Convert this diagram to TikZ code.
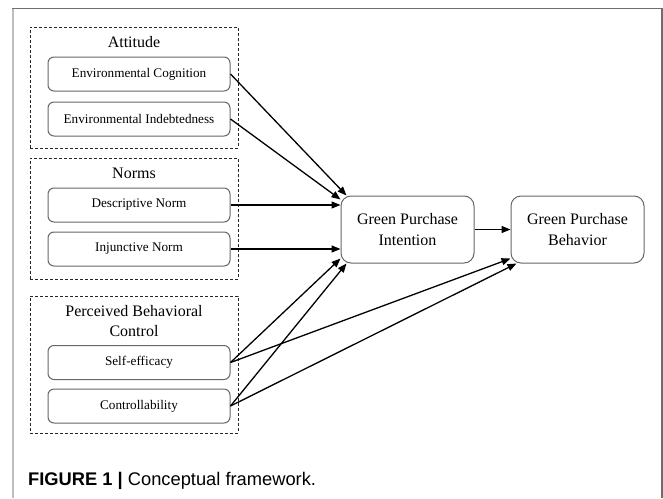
\documentclass[tikz,border=0pt]{standalone}
\usepackage{fontspec}
\setmainfont{Liberation Serif}
\newfontfamily\capsans{Liberation Sans}
\usepackage{xcolor}
\definecolor{boxgray}{HTML}{666666}
\definecolor{framegray}{HTML}{6E6E6E}
\definecolor{edgegray}{HTML}{BDBDBD}
\usepackage{tikz}
\usetikzlibrary{arrows.meta, positioning, calc}

\begin{document}
\begin{tikzpicture}[x=1pt, y=-1pt,
    inbox/.style={draw=boxgray, rounded corners=6pt, line width=1pt, minimum width=182pt, minimum height=34pt, inner sep=0pt, font=\fontsize{13.2}{15}\selectfont},
    mainbox/.style={draw=boxgray, rounded corners=10pt, line width=1pt, minimum width=133pt, minimum height=67pt, inner sep=0pt, align=center, font=\fontsize{16}{21}\selectfont},
    grpbox/.style={draw=black!85, dash pattern=on 3pt off 2pt, line width=0.9pt, minimum width=208pt, inner sep=0pt},
    grptitle/.style={inner sep=0pt, align=center, font=\fontsize{16}{20}\selectfont},
    link/.style={-{Triangle[length=9pt, width=7pt]}, line width=1.3pt}]
    \useasboundingbox (0,0) rectangle (663,498);
    % Frame
    \draw[edgegray, line width=2pt] (13,8) -- (13,498);
    \draw[framegray, line width=1.6pt] (12,8.5) -- (662,8.5) -- (662,498);
    % Dashed groups
    \node[grpbox, minimum height=121pt] (attgrp) at (134,87.5) {};
    \node[grpbox, minimum height=121pt] (normgrp) at (134,218.5) {};
    \node[grpbox, minimum height=137pt] (pbcgrp) at (134,364.5) {};
    \node[grptitle, anchor=base] (atttitle) at (134,47) {Attitude};
    \node[grptitle, anchor=base] (normtitle) at (134,178) {Norms};
    \node[grptitle, anchor=north] (pbctitle) at (134,305) {Perceived Behavioral\\Control};
    % Factor boxes
    \foreach \nm/\y/\txt in {envcog/74/Environmental Cognition, envind/119/Environmental Indebtedness, descn/205/Descriptive Norm, injn/249/Injunctive Norm, selfeff/362.5/Self-efficacy, ctrl/406/Controllability} {
        \node[inbox] (\nm) at (139,\y) {\txt};
    }
    \node[mainbox] (gpi) at (407.5,229.5) {Green Purchase\\Intention};
    \node[mainbox] (gpb) at (577.5,229.5) {Green Purchase\\Behavior};
    % Paths
    \draw[link] (envcog.east) -- ([xshift=6pt]gpi.north west);
    \draw[link] (envind.east) -- ([yshift=-4pt]gpi.north west);
    \draw[link] (descn.east) -- (descn.east -| gpi.west);
    \draw[link] (injn.east) -- (injn.east -| gpi.west);
    \draw[link] (selfeff.east) -- ([yshift=5pt]gpi.south west);
    \draw[link] (ctrl.east) -- ([xshift=6pt]gpi.south west);
    \draw[link] (selfeff.east) -- ([yshift=5pt]gpb.south west);
    \draw[link] (ctrl.east) -- ([xshift=6pt]gpb.south west);
    \draw[link] (gpi.east) -- (gpb.west);
    % Caption
    \node[anchor=base west, inner sep=0pt, font=\capsans\fontsize{18.3}{22}\selectfont] (caption) at (28,485) {\textbf{FIGURE 1 |} Conceptual framework.};
\end{tikzpicture}
\end{document}
